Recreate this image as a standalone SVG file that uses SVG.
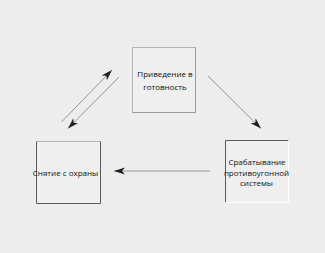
<svg xmlns="http://www.w3.org/2000/svg" width="325" height="253" viewBox="0 0 325 253">
<style>
.box{fill:#efefef;stroke:none}
.lt{stroke:#b4b4b4;stroke-width:1;fill:none}
.dk{stroke:#5a5a5a;stroke-width:1;fill:none}
.wh{stroke:#ffffff;stroke-width:1;fill:none}
.lbl{font-family:"Open Sans","Liberation Sans",sans-serif;font-size:8px;fill:#111;text-anchor:middle}
.con{stroke:#8c8c8c;stroke-width:0.9;fill:none;marker-end:url(#ah)}
</style>
<defs>
<marker id="ah" markerUnits="userSpaceOnUse" markerWidth="12" markerHeight="8" refX="11" refY="3.5" orient="auto">
<path d="M0,0 L11,3.5 L0,7 L3,3.5 z" fill="#1e1e1e"/>
</marker>
</defs>
<rect width="325" height="253" fill="#ededed"/>
<g id="connectors">
<line class="con" x1="61.5" y1="122" x2="112" y2="70"/>
<line class="con" x1="119" y1="77" x2="68" y2="128.5"/>
<line class="con" x1="208" y1="76" x2="261" y2="128.5"/>
<line class="con" x1="210" y1="171" x2="114" y2="171"/>
</g>
<g id="node-top">
<rect class="box" x="132.5" y="47.5" width="63" height="65"/>
<path class="lt" d="M132.5,112.5 V47.5 H195.5"/>
<path class="lt" d="M195.5,47.5 V112.5 H132.5" style="stroke:#9a9a9a"/>
<text class="lbl" x="165" y="77">Приведение в</text>
<text class="lbl" x="165" y="90">готовность</text>
</g>
<g id="node-left">
<rect class="box" x="36.5" y="141.5" width="64" height="62"/>
<path class="lt" d="M36.5,141.5 H100.5"/>
<path class="dk" d="M36.5,141.5 V203.5 H100.5 V141.5"/>
<text class="lbl" x="65.5" y="176">Снятие с охраны</text>
</g>
<g id="node-right">
<rect class="box" x="225.5" y="140.5" width="63" height="62"/>
<path class="dk" d="M225.5,202.5 V140.5 H288.5"/>
<path class="wh" d="M288.5,140.5 V202.5 H225.5"/>
<text class="lbl" x="257" y="165">Срабатывание</text>
<text class="lbl" x="256.5" y="176">противоугонной</text>
<text class="lbl" x="256.5" y="186">системы</text>
</g>
</svg>
